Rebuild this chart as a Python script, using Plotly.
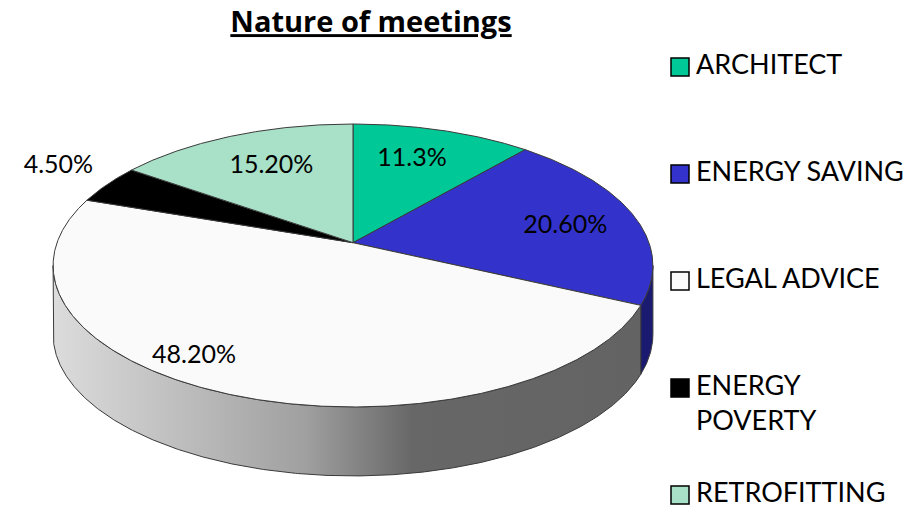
import numpy as np
import plotly.graph_objects as go

# ---------------- data ----------------
categories = ["ARCHITECT", "ENERGY SAVING", "LEGAL ADVICE", "ENERGY POVERTY", "RETROFITTING"]
legend_names = ["ARCHITECT", "ENERGY SAVING", "LEGAL ADVICE", "ENERGY<br>POVERTY", "RETROFITTING"]
values = [11.3, 20.6, 48.2, 4.5, 15.2]
value_labels = ["11.3%", "20.60%", "48.20%", "4.50%", "15.20%"]
title_text = "Nature of meetings"

# ---------------- styles ----------------
top_colors = ["#00C896", "#3333CC", "#FAFAFA", "#000000", "#A8E0C8"]
side_colors = ["#008060", "#1a1a70", None, "#000000", "#6f9a88"]
side_gradient = [[0.0, "#dcdcdc"], [0.42, "#a0a0a0"], [0.6, "#676767"], [1.0, "#636363"]]
outline = "#3a3a3a"
label_r = [0.70, 0.74, 0.87, 1.25, 0.68]
label_dtheta = [-2.0, 3.0, 11.0, 2.0, 1.0]

W, H = 912, 513
CX, CY = 353.0, 242.7          # projected pie centre (px)
A, B, K = 296.0, 137.8, 0.161  # perspective projection parameters
DEPTH = 69.0                   # thickness of the pie (px)
LEG_X, LEG_TEXT_X = 680.0, 696.0
LEG_TOP, LEG_STEP = 67.0, 107.0
LEG_FONT = 27


def proj(r, theta_deg, dz=0.0):
    t = np.radians(theta_deg)
    x = r * np.sin(t)
    y = -r * np.cos(t)
    d = 1.0 - K * y
    return CX + A * x / d, CY + B * y / d + dz


total = float(sum(values))
bounds = np.concatenate([[0.0], np.cumsum(values) / total * 360.0])

fig = go.Figure()

# ---- side walls (only the front-facing part of the rim) ----
front_lo = np.degrees(np.arccos(-K))
front_hi = 360.0 - front_lo
side_order = sorted(range(len(values)), key=lambda i: 0 if side_colors[i] is not None else 1)
for i in side_order:
    a0, a1 = bounds[i], bounds[i + 1]
    s0, s1 = max(a0, front_lo), min(a1, front_hi)
    if s1 <= s0:
        continue
    th = np.linspace(s0, s1, max(3, int((s1 - s0) * 3)))
    tx, ty = proj(1.0, th)
    bx, by = proj(1.0, th[::-1], DEPTH)
    xs = np.concatenate([tx, bx, tx[:1]])
    ys = np.concatenate([ty, by, ty[:1]])
    kw = dict(fill="toself", mode="lines", line=dict(color=outline, width=1),
              showlegend=False, hoverinfo="skip")
    if side_colors[i] is None:
        kw["fillgradient"] = dict(type="horizontal", colorscale=side_gradient,
                                  start=CX - A * 1.015, stop=CX + A * 1.015)
    else:
        kw["fillcolor"] = side_colors[i]
    fig.add_trace(go.Scatter(x=xs, y=ys, **kw))

# ---- top faces ----
for i in range(len(values)):
    a0, a1 = bounds[i], bounds[i + 1]
    th = np.linspace(a0, a1, max(3, int((a1 - a0) * 3)))
    rx, ry = proj(1.0, th)
    xs = np.concatenate([[CX], rx, [CX]])
    ys = np.concatenate([[CY], ry, [CY]])
    fig.add_trace(go.Scatter(x=xs, y=ys, fill="toself", mode="lines",
                             fillcolor=top_colors[i], line=dict(color=outline, width=1),
                             name=categories[i], showlegend=False, hoverinfo="skip"))

# ---- data labels ----
lx, ly = [], []
for i in range(len(values)):
    mid = (bounds[i] + bounds[i + 1]) / 2.0 + label_dtheta[i]
    px, py = proj(label_r[i], mid)
    lx.append(px)
    ly.append(py)
fig.add_trace(go.Scatter(x=lx, y=ly, mode="text", text=value_labels,
                         textposition="middle center",
                         textfont=dict(family="Lato", size=25, color="#000000"),
                         showlegend=False, hoverinfo="skip"))

# ---- legend (keys + names) ----
line_h = LEG_FONT * 1.3
key_y = [LEG_TOP + LEG_STEP * i for i in range(len(categories))]
text_y = [y + (line_h / 2 if "<br>" in n else 0) for y, n in zip(key_y, legend_names)]
fig.add_trace(go.Scatter(x=[LEG_X] * len(categories), y=key_y, mode="markers",
                         marker=dict(symbol="square", size=18, color=top_colors,
                                     line=dict(color="#000000", width=1.5)),
                         showlegend=False, hoverinfo="skip"))
fig.add_trace(go.Scatter(x=[LEG_TEXT_X] * len(categories), y=text_y, mode="text",
                         text=legend_names, textposition="middle right",
                         textfont=dict(family="Lato", size=LEG_FONT, color="#000000"),
                         showlegend=False, hoverinfo="skip"))

fig.update_layout(
    width=W, height=H, autosize=False,
    margin=dict(l=0, r=0, t=0, b=0, autoexpand=False),
    paper_bgcolor="#ffffff", plot_bgcolor="#ffffff",
    title=dict(text=f"<b><u>{title_text}</u></b>", x=371 / W, xanchor="center",
               y=1 - 22 / H, yanchor="middle", yref="container",
               font=dict(family="Open Sans", size=29, color="#000000")),
    xaxis=dict(range=[0, W], visible=False, fixedrange=True),
    yaxis=dict(range=[H, 0], visible=False, fixedrange=True),
    showlegend=False,
)

fig.write_html("out.html", config={"displayModeBar": False},
               post_script="document.body.style.margin='0';")
